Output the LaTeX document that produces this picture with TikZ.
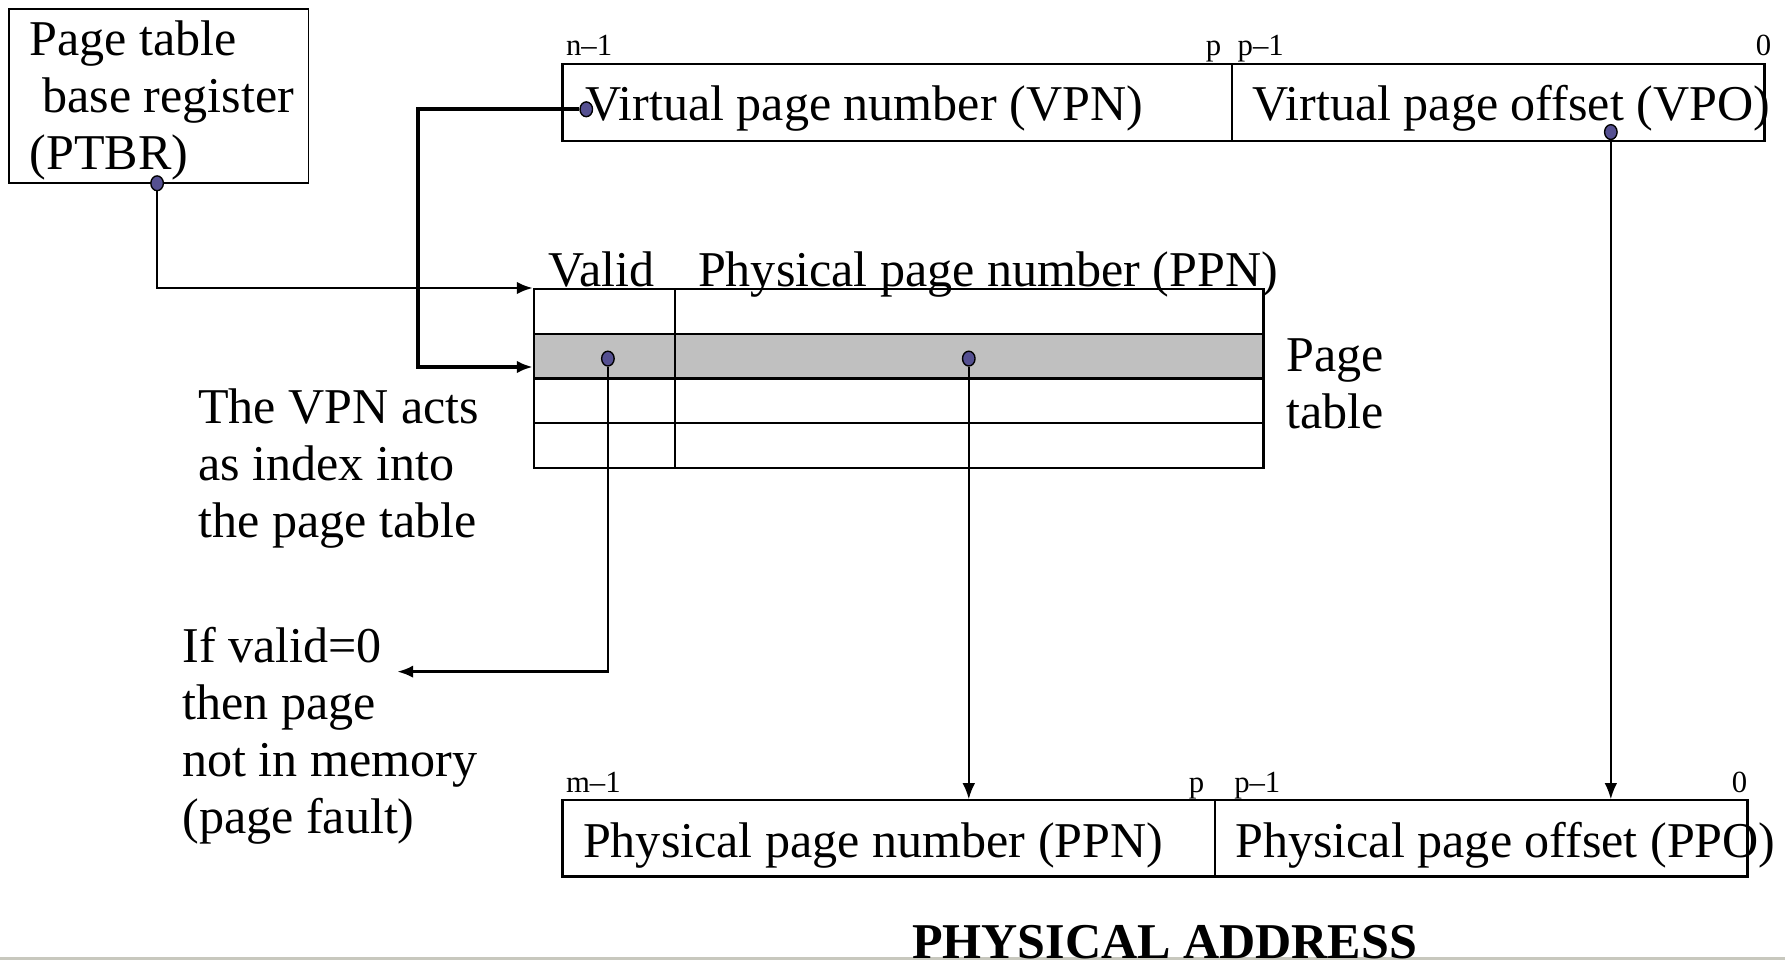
\documentclass[tikz,border=0pt]{standalone}
\usepackage{fontspec}
\setmainfont{Liberation Serif}
\usetikzlibrary{arrows.meta}
\usetikzlibrary{shapes.geometric}

\definecolor{rowgray}{RGB}{192,192,192}
\definecolor{dotblue}{RGB}{85,80,145}
\definecolor{rulegray}{RGB}{200,200,190}

\begin{document}
\begin{tikzpicture}[x=1pt,y=-1pt]

\tikzstyle{big}=[font=\fontsize{44}{50}\selectfont, inner sep=0pt]
\tikzstyle{small}=[font=\fontsize{27}{30}\selectfont, inner sep=0pt]
\tikzstyle{field}=[draw=black, line width=2pt, inner sep=0pt]
\tikzstyle{cell}=[draw=black, line width=2pt, inner sep=0pt, minimum height=39.25pt]
\tikzstyle{dot}=[ellipse, draw=black, line width=1.2pt, fill=dotblue,
minimum width=11pt, minimum height=13pt, inner sep=0pt]
\tikzstyle{link}=[line width=2.4pt, -{Latex[length=14pt,width=11pt]}]

\useasboundingbox (0,0) rectangle (1568,850);

% page table base register (multi-line nodes sit on their last baseline)
\node[draw=black, line width=1.5pt, minimum width=263pt, minimum height=153pt] (ptbr) at (139.5,84.5) {};
\node[big, anchor=base west, align=left] (ptbrtext) at (26,149) {Page table\\\ base register\\(PTBR)};

% virtual address
\node[field, minimum width=588pt, minimum height=68pt] (vpn) at (788,90) {};
\node[field, minimum width=468pt, minimum height=68pt] (vpo) at (1316,90) {};
\node[big, anchor=base west] (vpntext) at (514,106) {Virtual page number (VPN)};
\node[big, anchor=base west] (vpotext) at (1100,106) {Virtual page offset (VPO)};
\node[small, anchor=base west] (vhigh) at (497,49) {n--1};
\node[small, anchor=base east] (vp) at (1073,49) {p};
\node[small, anchor=base west] (vpless) at (1087,49) {p--1};
\node[small, anchor=base east] (vzero) at (1556,49) {0};

% page table
\foreach \r/\shade in {1/white,2/rowgray,3/white,4/white} {
\node[cell, fill=\shade, minimum width=124pt] (valid\r) at (531,{234.375+39.25*\r}) {};
\node[cell, fill=\shade, minimum width=517pt] (pte\r) at (851.5,{234.375+39.25*\r}) {};
}
\node[big, anchor=base west] (validhead) at (482,252) {Valid};
\node[big, anchor=base west] (ppnhead) at (613,252) {Physical page number (PPN)};
\node[big, anchor=base west, align=left] (ptlabel) at (1130,376) {Page\\table};

\node[big, anchor=base west, align=left] (vpnnote) at (174,472)
{The VPN acts\\as index into\\the page table};
\node[big, anchor=base west, align=left] (faultnote) at (160,732)
{If valid=0\\then page\\not in memory\\(page fault)};

% physical address
\node[field, minimum width=573pt, minimum height=67pt] (ppn) at (780.5,736.5) {};
\node[field, minimum width=468pt, minimum height=67pt] (ppo) at (1301,736.5) {};
\node[big, anchor=base west] (ppntext) at (512,753) {Physical page number (PPN)};
\node[big, anchor=base west] (ppotext) at (1085,753) {Physical page offset (PPO)};
\node[small, anchor=base west] (phigh) at (497,696) {m--1};
\node[small, anchor=base east] (pp) at (1058,696) {p};
\node[small, anchor=base west] (ppless) at (1084,696) {p--1};
\node[small, anchor=base east] (pzero) at (1535,696) {0};

\draw[rulegray, line width=2.5pt] (0,842) -- (1568,842);
\node[big, font=\fontsize{44}{50}\selectfont\bfseries, anchor=base] (patitle) at (1023,842)
{PHYSICAL ADDRESS};

% dots and arrows
\node[dot] (ptbrdot) at (138,161) {};
\node[dot] (vpndot) at (515,96) {};
\node[dot] (vpodot) at (1415,116) {};
\node[dot] (validdot) at (534,315) {};
\node[dot] (ppndot) at (851,315) {};

\coordinate (vpnbend) at (367,96);
\coordinate (rowin) at ([yshift=-9.5pt]valid2.west);
\coordinate (faulttip) at (349,590);

\draw[link] (ptbrdot.south) |- (valid1.north west);
\draw[link, line width=3.4pt] (vpndot.west) -- (vpnbend) |- (rowin);
\draw[link, line width=1.6pt] (vpodot.south) -- (vpodot.south |- ppo.north);
\draw[link, line width=1.6pt] (ppndot.south) -- (ppndot.south |- ppn.north);
\draw[link] (validdot.south) |- (faulttip);

\end{tikzpicture}
\end{document}
